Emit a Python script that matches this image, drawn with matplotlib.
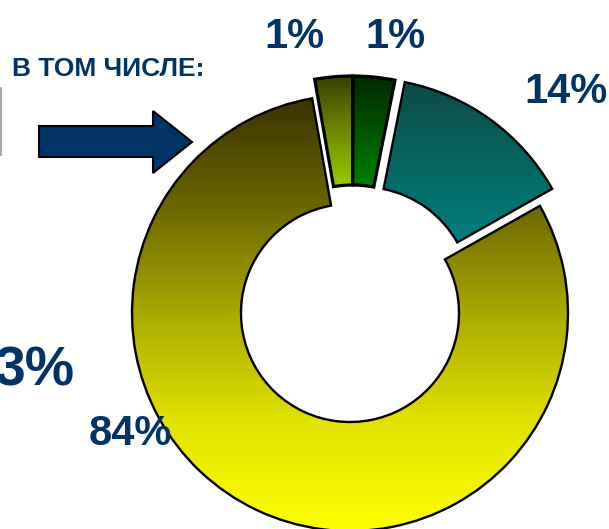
import numpy as np
import matplotlib.pyplot as plt
from matplotlib.patches import Polygon, Rectangle
from matplotlib.colors import to_rgb

# slice shares and their printed labels
shares = [2.8, 3.1, 13.7, 80.4]
labels = ['1%', '1%', '14%', '84%']
explode = [0, 0, 21, 0]
# gradient stops, top -> bottom, for each slice
gradients = [
    ['#383f00', '#6f8a00', '#9acd00'],
    ['#002800', '#005400', '#008000'],
    ['#0d4a47', '#066560', '#008080'],
    ['#3a3300', '#6c6600', '#aaaa00', '#e2e200', '#ffff00'],
]

# label positions in pixels (x, baseline y from top)
label_pos = [(294, 48), (395, 48), (566, 103), (130, 445)]

NAVY = '#003366'
W, H = 609, 529


def fill_gradient(ax, patch, stops):
    bb = patch.get_path().get_extents(patch.get_patch_transform())
    cols = np.array([to_rgb(c) for c in stops])[::-1]  # bottom -> top
    t = np.linspace(0, 1, 256)
    xs = np.linspace(0, 1, len(cols))
    img = np.stack([np.interp(t, xs, cols[:, k]) for k in range(3)], axis=-1)[:, None, :]
    im = ax.imshow(img, extent=(bb.x0, bb.x1, bb.y0, bb.y1), origin='lower',
                   aspect='auto', interpolation='bilinear', zorder=1)
    im.set_clip_path(patch)


fig = plt.figure(figsize=(W / 100, H / 100), dpi=100)
ax = fig.add_axes([0, 0, 1, 1])

cx, cy, r = 350, H - 313, 218
wedges, _ = ax.pie(shares, explode=explode, startangle=100, counterclock=False,
                   center=(cx, cy), radius=r,
                   wedgeprops=dict(width=109, facecolor='none', edgecolor='black',
                                   linewidth=1.7, zorder=3))
# the two thin slices are pulled out together, straight up
for w in wedges[:2]:
    w.set_center((cx + 2.5, cy + 19))
    w.set_linewidth(2.3)
for w, st in zip(wedges, gradients):
    fill_gradient(ax, w, st)

font = 'Liberation Sans'
for lab, (x, y) in zip(labels, label_pos):
    ax.text(x, H - y, lab, ha='center', va='baseline', fontsize=30,
            fontweight='bold', color=NAVY, family=font, zorder=5)

ax.text(75, H - 386, '3%', ha='right', va='baseline', fontsize=40,
        fontweight='bold', color=NAVY, family=font, zorder=5)
ax.text(12, H - 76, 'В ТОМ ЧИСЛЕ:', ha='left', va='baseline', fontsize=19,
        fontweight='bold', color=NAVY, family=font, zorder=5)

# arrow
arrow_pts = [(39, 126), (153, 126), (153, 111), (192, 142), (153, 173), (153, 157), (39, 157)]
ax.add_patch(Polygon([(x, H - y) for x, y in arrow_pts], closed=True,
                     facecolor=NAVY, edgecolor='black', linewidth=1.5, zorder=4))

# edge of a box cut off at the left border
ax.add_patch(Rectangle((-10, H - 155), 11, 67, facecolor='white',
                       edgecolor='#999999', linewidth=1.2, zorder=4))

ax.set_xlim(0, W)
ax.set_ylim(0, H)
ax.set_aspect('equal')
ax.axis('off')

fig.savefig('out.png', dpi=100)
